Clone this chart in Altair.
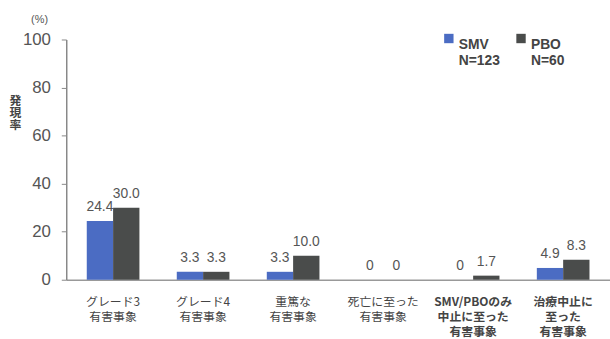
import altair as alt
import pandas as pd

categories = ["グレード3|有害事象", "グレード4|有害事象", "重篤な|有害事象",
              "死亡に至った|有害事象", "SMV/PBOのみ|中止に至った|有害事象",
              "治療中止に|至った|有害事象"]
groups = ["SMV|N=123", "PBO|N=60"]
smv = [24.4, 3.3, 3.3, 0, 0, 4.9]
pbo = [30.0, 3.3, 10.0, 0, 1.7, 8.3]
smv_labels = ["24.4", "3.3", "3.3", "0", "0", "4.9"]
pbo_labels = ["30.0", "3.3", "10.0", "0", "1.7", "8.3"]
colors = ["#4b6cc3", "#4a4c4b"]

rows = []
for i, c in enumerate(categories):
    rows.append({"cat": c, "grp": groups[0], "val": smv[i], "lab": smv_labels[i]})
    rows.append({"cat": c, "grp": groups[1], "val": pbo[i], "lab": pbo_labels[i]})
df = pd.DataFrame(rows)

FONT = "Liberation Sans"

x = alt.X("cat:N", sort=categories, title=None,
          scale=alt.Scale(paddingInner=0.415, paddingOuter=0.228),
          axis=alt.Axis(labelAngle=0, labelExpr="split(datum.label, '|')",
                        labelFontSize=12, labelColor="#444", labelPadding=17,
                        labelLineHeight=15, labelBaseline="top",
                        labelFontWeight={"condition": {"test": "indexof(datum.label, 'SMV') >= 0 || indexof(datum.label, '治療') >= 0", "value": "bold"}, "value": "normal"},
                        ticks=False, domainColor="#999", domainWidth=1.5,
                        labelFont="Noto Sans CJK JP", labelLimit=200))
xo = alt.XOffset("grp:N", sort=groups, scale=alt.Scale(domain=groups))

base = alt.Chart(df)

bars = base.mark_bar().encode(
    x=x, xOffset=xo,
    y=alt.Y("val:Q", scale=alt.Scale(domain=[0, 100]),
            axis=alt.Axis(values=[0, 20, 40, 60, 80, 100], grid=False,
                          labelFontSize=17, labelColor="#555", labelFont=FONT,
                          tickColor="#888", tickSize=5, domainColor="#888",
                          domainWidth=1.5, labelPadding=11,
                          title=["発", "現", "率"], titleAngle=0,
                          titleX=-52, titleY=57, titleAlign="center",
                          titleBaseline="top", titleFontSize=12,
                          titleFontWeight="bold", titleColor="#444",
                          titleLineHeight=12, titleFont="Noto Sans CJK JP")),
    color=alt.Color("grp:N", sort=groups,
                    scale=alt.Scale(domain=groups, range=colors),
                    legend=alt.Legend(title=None, orient="none", legendX=380,
                                      legendY=-8, direction="horizontal",
                                      columns=2, columnPadding=14,
                                      labelExpr="split(datum.label, '|')",
                                      labelFontSize=14, labelColor="#444",
                                      labelFont=FONT, labelFontWeight="bold",
                                      labelBaseline="top", labelOffset=3,
                                      labelLimit=200, symbolType="square",
                                      symbolSize=90, symbolStrokeWidth=0,
                                      symbolOpacity=1)),
)

texts = base.mark_text(dy=-7, fontSize=14, color="#555", font=FONT,
                       baseline="bottom").encode(
    x=x, xOffset=xo, y=alt.Y("val:Q"), text="lab:N")

unit = alt.Chart(pd.DataFrame({"t": ["(%)"]})).mark_text(
    fontSize=11, color="#555", font=FONT).encode(
    text="t:N", x=alt.value(-27), y=alt.value(-20))

chart = alt.layer(bars, texts, unit).properties(
    width=550, height=243,
    padding={"left": 67, "top": 38, "right": 0, "bottom": 58},
    autosize=alt.AutoSizeParams(type="none"),
    background="white",
).configure_view(stroke=None)

chart.save("out.html", embed_options={"renderer": "svg", "actions": False})
